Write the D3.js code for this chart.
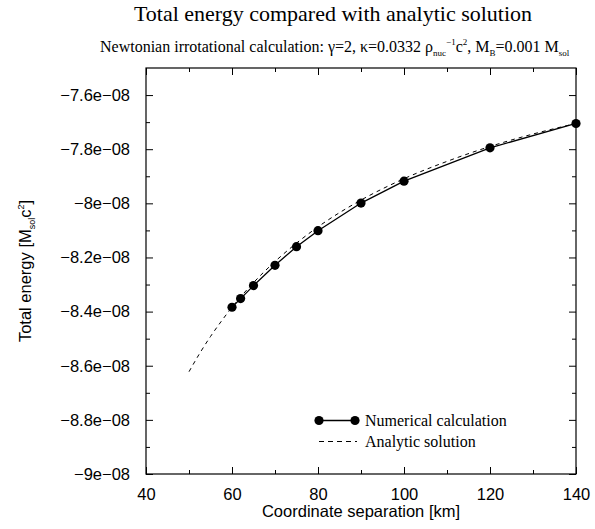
<!DOCTYPE html>
<html><head><meta charset="utf-8">
<script src="https://cdn.jsdelivr.net/npm/d3@7/dist/d3.min.js"></script>
<style>
html,body{margin:0;padding:0;background:#fff;}
svg{display:block;}
</style></head>
<body>
<script>
// ---- data ----
const numX = [60, 62, 65, 70, 75, 80, 90, 100, 120, 140];
const numE = [-8.384e-8, -8.352e-8, -8.304e-8, -8.229e-8, -8.160e-8, -8.101e-8, -7.999e-8, -7.918e-8, -7.795e-8, -7.705e-8];
const anaX = [50, 52.5, 55, 57.5, 60, 65, 70, 75, 80, 90, 100, 110, 120, 130, 140];
const anaE = [-8.622e-8, -8.554e-8, -8.492e-8, -8.436e-8, -8.384e-8, -8.293e-8, -8.215e-8, -8.147e-8, -8.087e-8, -7.988e-8, -7.909e-8, -7.845e-8, -7.790e-8, -7.744e-8, -7.705e-8];
const xMajor = [40, 60, 80, 100, 120, 140];
const xMinor = [50, 70, 90, 110, 130];
const yMajor = [-9e-8, -8.8e-8, -8.6e-8, -8.4e-8, -8.2e-8, -8e-8, -7.8e-8, -7.6e-8];
const yMinor = [-8.9e-8, -8.7e-8, -8.5e-8, -8.3e-8, -8.1e-8, -7.9e-8, -7.7e-8];
const yTickLabels = ["\u22129e\u221208", "\u22128.8e\u221208", "\u22128.6e\u221208", "\u22128.4e\u221208", "\u22128.2e\u221208", "\u22128e\u221208", "\u22127.8e\u221208", "\u22127.6e\u221208"];
const xDomain = [40, 140];
const yDomain = [-9e-8, -7.5e-8];
const legendLabels = ["Numerical calculation", "Analytic solution"];

// ---- layout ----
const W = 595, H = 529;
const L = 146, R = 576, T = 68, B = 474;
const svg = d3.select("body").append("svg").attr("width", W).attr("height", H);
const x = d3.scaleLinear().domain(xDomain).range([L, R]);
const y = d3.scaleLinear().domain(yDomain).range([B, T]);
const sans = "'Liberation Sans', Arial, sans-serif";
const serif = "'Liberation Serif', 'Times New Roman', serif";
const tickFs = 16.5;

// axes
function styleAxis(g){ g.select(".domain").remove(); g.selectAll("line").attr("stroke","#000").attr("stroke-width",1); }
svg.append("g").attr("transform",`translate(0,${B})`)
  .call(d3.axisBottom(x).tickValues(xMajor).tickSize(-7).tickPadding(14).tickFormat(d3.format("d")))
  .call(styleAxis)
  .call(g=>g.selectAll("text").attr("font-family",sans).attr("font-size",tickFs).attr("fill","#000"));
svg.append("g").attr("transform",`translate(0,${B})`)
  .call(d3.axisBottom(x).tickValues(xMinor).tickSize(-4).tickFormat(""))
  .call(styleAxis);
svg.append("g").attr("transform",`translate(0,${T})`)
  .call(d3.axisTop(x).tickValues(xMajor).tickSize(-7).tickFormat(""))
  .call(styleAxis);
svg.append("g").attr("transform",`translate(0,${T})`)
  .call(d3.axisTop(x).tickValues(xMinor).tickSize(-4).tickFormat(""))
  .call(styleAxis);
svg.append("g").attr("transform",`translate(${L},0)`)
  .call(d3.axisLeft(y).tickValues(yMajor).tickSize(-7).tickPadding(16).tickFormat((d,i)=>yTickLabels[i]))
  .call(styleAxis)
  .call(g=>g.selectAll("text").attr("font-family",sans).attr("font-size",tickFs).attr("fill","#000"));
svg.append("g").attr("transform",`translate(${L},0)`)
  .call(d3.axisLeft(y).tickValues(yMinor).tickSize(-4).tickFormat(""))
  .call(styleAxis);
svg.append("g").attr("transform",`translate(${R},0)`)
  .call(d3.axisRight(y).tickValues(yMajor).tickSize(-7).tickFormat(""))
  .call(styleAxis);
svg.append("g").attr("transform",`translate(${R},0)`)
  .call(d3.axisRight(y).tickValues(yMinor).tickSize(-4).tickFormat(""))
  .call(styleAxis);

// border
svg.append("rect").attr("x",L).attr("y",T).attr("width",R-L).attr("height",B-T)
  .attr("fill","none").attr("stroke","#000").attr("stroke-width",1.2);

// analytic
const ana = anaX.map((v,i)=>[v, anaE[i]]);
svg.append("path").datum(ana)
  .attr("d", d3.line().x(d=>x(d[0])).y(d=>y(d[1])).curve(d3.curveMonotoneX))
  .attr("fill","none").attr("stroke","#000").attr("stroke-width",1).attr("stroke-dasharray","4,4");

// numerical
const num = numX.map((v,i)=>[v, numE[i]]);
svg.append("path").datum(num)
  .attr("d", d3.line().x(d=>x(d[0])).y(d=>y(d[1])))
  .attr("fill","none").attr("stroke","#000").attr("stroke-width",1.3);
svg.selectAll("circle.pt").data(num).enter().append("circle").attr("class","pt")
  .attr("cx",d=>x(d[0])).attr("cy",d=>y(d[1])).attr("r",4.6).attr("fill","#000");

// legend
const lx1 = 319, lx2 = 355, ly1 = 420.5, ly2 = 441.5;
svg.append("line").attr("x1",lx1).attr("x2",lx2).attr("y1",ly1).attr("y2",ly1).attr("stroke","#000").attr("stroke-width",1.3);
svg.append("circle").attr("cx",lx1).attr("cy",ly1).attr("r",4.6).attr("fill","#000");
svg.append("circle").attr("cx",lx2).attr("cy",ly1).attr("r",4.6).attr("fill","#000");
svg.append("line").attr("x1",lx1).attr("x2",lx2+2).attr("y1",ly2).attr("y2",ly2).attr("stroke","#000").attr("stroke-width",1).attr("stroke-dasharray","5,4");
svg.append("text").attr("x",365).attr("y",ly1+5.5).attr("font-family",serif).attr("font-size",16).text(legendLabels[0]);
svg.append("text").attr("x",365).attr("y",ly2+5.5).attr("font-family",serif).attr("font-size",16).text(legendLabels[1]);

// x label
svg.append("text").attr("x",(L+R)/2).attr("y",517).attr("text-anchor","middle")
  .attr("font-family",sans).attr("font-size",tickFs).text("Coordinate separation [km]");

// y label
const yl = svg.append("text").attr("transform",`translate(31,${(T+B)/2}) rotate(-90)`)
  .attr("text-anchor","middle").attr("font-family",sans).attr("font-size",tickFs);
yl.append("tspan").text("Total energy [M");
yl.append("tspan").attr("font-size",9).attr("dy",4).text("sol");
yl.append("tspan").attr("dy",-4).text("c");
yl.append("tspan").attr("font-size",9).attr("dy",-7).text("2");
yl.append("tspan").attr("dy",7).text("]");

// title
svg.append("text").attr("x",333).attr("y",21).attr("text-anchor","middle")
  .attr("font-family",serif).attr("font-size",22).text("Total energy compared with analytic solution");

// subtitle
const st = svg.append("text").attr("x",100).attr("y",52).attr("font-family",serif).attr("font-size",16);
st.append("tspan").text("Newtonian irrotational calculation: \u03b3=2, \u03ba=0.0332 \u03c1");
st.append("tspan").attr("font-size",9).attr("dy",4).text("nuc");
st.append("tspan").attr("font-size",9).attr("dy",-11).text("\u22121");
st.append("tspan").attr("dy",7).text("c");
st.append("tspan").attr("font-size",9).attr("dy",-7).text("2");
st.append("tspan").attr("dy",7).text(", M");
st.append("tspan").attr("font-size",9).attr("dy",4).text("B");
st.append("tspan").attr("dy",-4).text("=0.001 M");
st.append("tspan").attr("font-size",9).attr("dy",4).text("sol");
</script>
</body></html>
